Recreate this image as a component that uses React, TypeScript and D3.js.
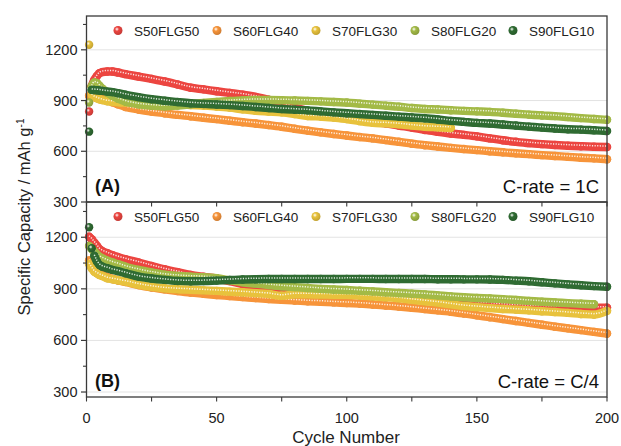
import * as d3 from 'd3';

// cycle numbers sampled from the curves
const cycles = [1, 2, 3, 4, 5, 6, 8, 10, 12, 15, 20, 25, 30, 35, 40, 45, 50, 55, 60, 65, 70, 75, 80, 85, 90, 95, 100, 105, 110, 115, 120, 125, 130, 135, 140, 145, 150, 155, 160, 165, 170, 175, 180, 185, 190, 195, 200];

const seriesNames = ['S50FLG50', 'S60FLG40', 'S70FLG30', 'S80FLG20', 'S90FLG10'];
const seriesColors = ['#ec4540', '#f7943a', '#e8c23c', '#a3ba46', '#2f6b32'];

// panel A, C-rate = 1C
const a50 = [835, 985, 1022, 1045, 1062, 1068, 1072, 1072, 1066, 1056, 1042, 1028, 1013, 995, 976, 966, 955, 945, 935, 922, 905, 882, 858, 838, 820, 808, 798, 788, 775, 765, 752, 740, 726, 715, 705, 697, 688, 676, 665, 656, 648, 642, 637, 633, 630, 627, 625];
const a60 = [928, 940, 935, 930, 922, 915, 902, 890, 878, 862, 847, 835, 825, 815, 807, 798, 790, 781, 772, 764, 755, 745, 733, 722, 712, 702, 693, 684, 676, 666, 656, 645, 636, 628, 620, 613, 607, 600, 594, 588, 583, 577, 572, 567, 562, 558, 553];
const a70 = [1230, 934, 920, 914, 908, 903, 896, 893, 890, 888, 885, 882, 880, 877, 874, 870, 865, 858, 848, 840, 835, 830, 820, 808, 805, 800, 790, 778, 768, 765, 760, 752, 745, 742, 738, null, null, null, null, null, null, null, null, null, null, null, null];
const a80 = [888, 983, 1007, 1003, 987, 972, 947, 928, 912, 894, 878, 870, 866, 870, 878, 886, 892, 897, 901, 903, 903, 902, 900, 898, 895, 891, 888, 882, 876, 870, 864, 856, 850, 847, 843, 839, 836, 833, 828, 822, 817, 812, 808, 802, 796, 791, 786];
const a90 = [716, 963, 962, 961, 959, 957, 953, 950, 944, 934, 920, 908, 899, 891, 884, 880, 877, 873, 868, 862, 856, 850, 846, 842, 836, 830, 825, 820, 815, 810, 805, 800, 795, 788, 780, 774, 768, 764, 758, 752, 746, 740, 735, 730, 728, 724, 720];

// panel B, C-rate = C/4
const b50 = [1203, 1188, 1169, 1150, 1130, 1120, 1107, 1095, 1085, 1072, 1053, 1033, 1014, 997, 981, 970, 960, 945, 928, 915, 905, 898, 892, 887, 882, 878, 874, 870, 866, 862, 858, 853, 848, 843, 838, 830, 820, 814, 808, 804, 800, 797, 795, 793, 792, 791, 790];
const b60 = [1065, 1045, 1025, 1010, 990, 982, 968, 958, 950, 940, 922, 908, 897, 887, 878, 871, 864, 858, 852, 846, 841, 836, 832, 828, 825, 821, 818, 814, 809, 803, 797, 790, 782, 775, 767, 757, 746, 735, 724, 713, 702, 691, 680, 670, 660, 650, 640];
const b70 = [1045, 1020, 1000, 990, 981, 975, 962, 956, 950, 942, 925, 912, 903, 898, 895, 891, 888, 884, 880, 875, 870, 860, 868, 868, 867, 866, 865, 861, 856, 851, 845, 836, 828, 820, 810, 800, 794, 788, 783, 779, 775, 770, 765, 760, 754, 750, 772];
const b80 = [1149, 1132, 1117, 1100, 1087, 1078, 1064, 1053, 1044, 1029, 1010, 995, 982, 975, 971, 968, 962, 950, 938, 930, 922, 915, 910, 905, 900, 896, 893, 889, 885, 880, 876, 872, 868, 862, 856, 851, 847, 844, 840, 835, 830, 825, 821, 817, 813, 810, null];
const b90 = [1258, 1136, 1092, 1059, 1039, 1030, 1020, 1010, 1003, 991, 971, 960, 952, 946, 944, 945, 948, 951, 954, 956, 957, 957, 957, 957, 957, 957, 958, 958, 958, 957, 957, 957, 957, 956, 956, 955, 955, 954, 952, 948, 944, 938, 932, 926, 921, 916, 912];

const yMajor = [300, 600, 900, 1200];
const yMinor = [450, 750, 1050, 1350];
const xMajor = [0, 50, 100, 150, 200];
const xMinor = [25, 75, 125, 175];

const FONT = '"Liberation Sans", Arial, sans-serif';
const X0 = 86.5;
const X1 = 607;
const legendX = [118, 217, 316, 415, 513];

type Pt = { c: number; v: number };

const x = d3.scaleLinear().domain([0, 200]).range([X0, X1]);

function splitSegments(vals: (number | null)[], y: d3.ScaleLinear<number, number>) {
  const pts: Pt[] = [];
  cycles.forEach((c, i) => {
    const v = vals[i];
    if (v != null) pts.push({ c, v });
  });
  // a scatter of touching markers leaves a gap where it jumps more than a marker per cycle
  const segs: Pt[][] = [];
  let cur: Pt[] = [];
  pts.forEach((p, i) => {
    if (i > 0) {
      const q = pts[i - 1];
      if (Math.abs(y(p.v) - y(q.v)) / (p.c - q.c) > 7) {
        segs.push(cur);
        cur = [];
      }
    }
    cur.push(p);
  });
  segs.push(cur);
  return { pts, segs };
}

function Panel(props: {
  top: number;
  bottom: number;
  domain: [number, number];
  data: (number | null)[][];
  tag: string;
  rate: string;
  showXLabels: boolean;
}) {
  const { top, bottom, domain, data, tag, rate, showXLabels } = props;
  const y = d3.scaleLinear().domain(domain).range([bottom, top]);
  const line = d3
    .line<Pt>()
    .x((d) => x(d.c))
    .y((d) => y(d.v))
    .curve(d3.curveMonotoneX);
  const ly = top + 14.5;

  return (
    <g>
      {yMajor.map((t) => (
        <line key={'g' + t} x1={X0} x2={X1} y1={y(t)} y2={y(t)} stroke="#e3e3e3" strokeWidth={1} />
      ))}

      {data.map((vals, si) => {
        const { pts, segs } = splitSegments(vals, y);
        const col = seriesColors[si];
        return (
          <g key={si}>
            {pts.map((p) => (
              <circle key={p.c} cx={x(p.c)} cy={y(p.v)} r={4.2} fill={`url(#ball${si})`} />
            ))}
            {segs
              .filter((s) => s.length > 1)
              .map((s, k) => (
                <path key={'b' + k} d={line(s) ?? ''} fill="none" stroke={col} strokeWidth={8.4}
                  strokeLinecap="round" strokeLinejoin="round" />
              ))}
            {segs
              .filter((s) => s.length > 1)
              .map((s, k) => (
                <path key={'h' + k} d={line(s) ?? ''} fill="none" stroke="#fff" strokeOpacity={0.85}
                  strokeWidth={1.5} strokeDasharray="1.2 1.4" transform="translate(0,-1)" />
              ))}
          </g>
        );
      })}

      {/* legend */}
      {seriesNames.map((n, i) => (
        <g key={n}>
          <circle cx={legendX[i]} cy={ly} r={4.5} fill={`url(#ball${i})`} />
          <text x={legendX[i] + 16} y={ly + 5} fontSize={13.5} fontFamily={FONT} fill="#222">
            {n}
          </text>
        </g>
      ))}

      <text x={95} y={bottom - 10} fontSize={18} fontWeight="bold" fontFamily={FONT} fill="#111">
        {tag}
      </text>
      <text x={599} y={bottom - 9.5} fontSize={18.5} textAnchor="end" fontFamily={FONT} fill="#111">
        {rate}
      </text>

      {/* frame and ticks */}
      <rect x={X0} y={top} width={X1 - X0} height={bottom - top} fill="none" stroke="#3a3a3a" strokeWidth={1.3} />
      {yMajor
        .filter((t) => y(t) >= top && y(t) <= bottom)
        .map((t) => (
          <g key={'y' + t}>
            <line x1={X0 - 5.5} x2={X0} y1={y(t)} y2={y(t)} stroke="#3a3a3a" strokeWidth={1.2} />
            <text x={77.5} y={y(t) + 5} textAnchor="end" fontSize={14.5} fontFamily={FONT} fill="#222">
              {t}
            </text>
          </g>
        ))}
      {yMinor
        .filter((t) => y(t) >= top && y(t) <= bottom)
        .map((t) => (
          <line key={'ym' + t} x1={X0 - 3.5} x2={X0} y1={y(t)} y2={y(t)} stroke="#3a3a3a" strokeWidth={1.1} />
        ))}
      {xMajor.concat(xMinor).map((t) => (
        <line key={'x' + t} x1={x(t)} x2={x(t)} y1={bottom} y2={bottom + 4.5} stroke="#3a3a3a" strokeWidth={1.1} />
      ))}
      {showXLabels &&
        xMajor.map((t) => (
          <text key={'xl' + t} x={x(t)} y={422.5} textAnchor="middle" fontSize={14.5} fontFamily={FONT} fill="#222">
            {t}
          </text>
        ))}
    </g>
  );
}

export default function App() {
  return (
    <svg width={621} height={446} style={{ position: 'absolute', left: 0, top: 0, background: '#fff' }}>
      <defs>
        {seriesColors.map((c, i) => (
          <radialGradient key={i} id={`ball${i}`} cx="38%" cy="35%" r="65%">
            <stop offset="0%" stopColor="#ffffff" stopOpacity={0.95} />
            <stop offset="35%" stopColor={c} />
            <stop offset="100%" stopColor={d3.color(c)!.darker(0.5).toString()} />
          </radialGradient>
        ))}
      </defs>
      <rect width={621} height={446} fill="#fff" />

      <Panel top={16} bottom={202} domain={[300, 1400]} data={[a50, a60, a70, a80, a90]}
        tag="(A)" rate="C-rate = 1C" showXLabels={false} />
      <Panel top={202} bottom={397} domain={[271, 1405]} data={[b50, b60, b70, b80, b90]}
        tag="(B)" rate="C-rate = C/4" showXLabels={true} />

      <text transform="translate(30,217) rotate(-90)" textAnchor="middle" fontSize={16.5} fontFamily={FONT} fill="#222">
        Specific Capacity / mAh g<tspan dy={-6} fontSize={10}>-1</tspan>
      </text>
      <text x={346} y={443} textAnchor="middle" fontSize={17} fontFamily={FONT} fill="#222">
        Cycle Number
      </text>
    </svg>
  );
}
